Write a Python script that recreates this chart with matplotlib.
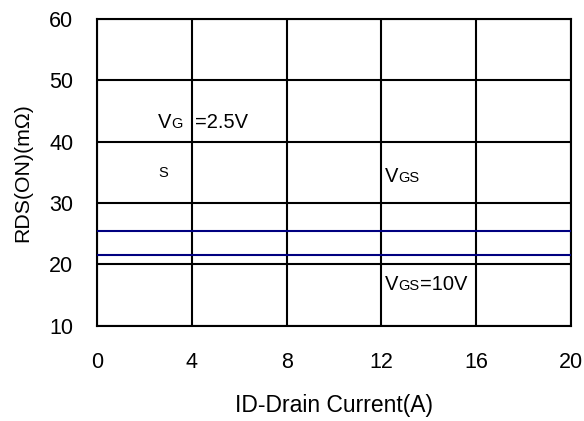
import matplotlib
matplotlib.use('Agg')
import matplotlib.pyplot as plt

# RDS(on) vs drain current
current = [0, 20]
rds_vgs_2v5 = [25.4, 25.4]
rds_vgs_10v = [21.5, 21.5]

x_ticks = [0, 4, 8, 12, 16, 20]
y_ticks = [10, 20, 30, 40, 50, 60]

plt.rcParams['font.family'] = ['Liberation Sans', 'DejaVu Sans']

fig = plt.figure(figsize=(5.84, 4.21), dpi=100)
ax = fig.add_axes([0.166, 0.226, 0.812, 0.729])

ax.plot(current, rds_vgs_2v5, color='#000080', lw=1.5, zorder=3)
ax.plot(current, rds_vgs_10v, color='#000080', lw=1.5, zorder=3)

ax.set_xlim(0, 20)
ax.set_ylim(10, 60)
ax.set_xticks(x_ticks)
ax.set_yticks(y_ticks)
ax.grid(True, color='black', lw=1.5)
ax.set_axisbelow(True)
for sp in ax.spines.values():
    sp.set_linewidth(1.5)
ax.tick_params(length=0, labelsize=15.5)
ax.tick_params(axis='x', pad=19)
ax.tick_params(axis='y', pad=17)

ax.set_xlabel('ID-Drain Current(A)', fontsize=16.5, labelpad=15)
ax.set_ylabel('RDS(ON)(m\u03a9)', fontsize=15.3, labelpad=12)

# annotations: subscripts drawn smaller, on the same baseline
big, small = 14.5, 10.5

def vlabel(x, y, sub, tail=None, tail_x=None):
    ax.text(x, y, 'V', fontsize=big, va='baseline')
    ax.annotate(sub, xy=(x, y), xytext=(9.6, 0), textcoords='offset points',
                fontsize=small, va='baseline')
    if tail is not None:
        ax.text(tail_x, y, tail, fontsize=big, va='baseline')

vlabel(2.57, 42.3, 'G', '=2.5V', 4.13)
ax.text(2.57, 34.2, 'S', fontsize=small, va='baseline')
vlabel(12.13, 33.4, 'GS')
vlabel(12.13, 15.85, 'GS')
ax.annotate('=10V', xy=(12.13, 15.85), xytext=(25.5, 0), textcoords='offset points',
            fontsize=big, va='baseline')

fig.savefig('out.png', dpi=100)
